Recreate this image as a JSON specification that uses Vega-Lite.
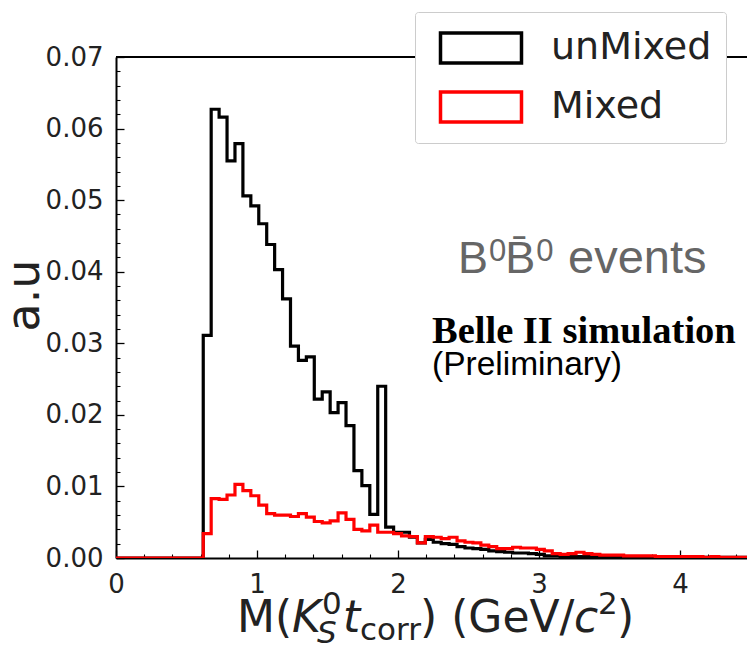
{
  "$schema": "https://vega.github.io/schema/vega-lite/v6.json",
  "autosize": "none",
  "width": 631,
  "height": 501,
  "padding": {"left": 116, "top": 57, "right": 0, "bottom": 87},
  "background": "white",
  "config": {"view": {"stroke": null}, "font": "DejaVu Sans"},
  "resolve": {"axis": {"x": "independent", "y": "independent"}},
  "data": {"values": [
    {"s": "unMixed", "x": 0, "y": 0},
    {"s": "unMixed", "x": 0.05625, "y": 0},
    {"s": "unMixed", "x": 0.1125, "y": 0},
    {"s": "unMixed", "x": 0.16875, "y": 0},
    {"s": "unMixed", "x": 0.225, "y": 0},
    {"s": "unMixed", "x": 0.28125, "y": 0},
    {"s": "unMixed", "x": 0.3375, "y": 0},
    {"s": "unMixed", "x": 0.39375, "y": 0},
    {"s": "unMixed", "x": 0.45, "y": 0},
    {"s": "unMixed", "x": 0.50625, "y": 0},
    {"s": "unMixed", "x": 0.5625, "y": 0},
    {"s": "unMixed", "x": 0.61875, "y": 0.0311},
    {"s": "unMixed", "x": 0.675, "y": 0.0627},
    {"s": "unMixed", "x": 0.73125, "y": 0.0616},
    {"s": "unMixed", "x": 0.7875, "y": 0.0555},
    {"s": "unMixed", "x": 0.84375, "y": 0.0579},
    {"s": "unMixed", "x": 0.9, "y": 0.0506},
    {"s": "unMixed", "x": 0.95625, "y": 0.0492},
    {"s": "unMixed", "x": 1.0125, "y": 0.0467},
    {"s": "unMixed", "x": 1.06875, "y": 0.0438},
    {"s": "unMixed", "x": 1.125, "y": 0.0403},
    {"s": "unMixed", "x": 1.18125, "y": 0.0362},
    {"s": "unMixed", "x": 1.2375, "y": 0.0296},
    {"s": "unMixed", "x": 1.29375, "y": 0.0276},
    {"s": "unMixed", "x": 1.35, "y": 0.0281},
    {"s": "unMixed", "x": 1.40625, "y": 0.0222},
    {"s": "unMixed", "x": 1.4625, "y": 0.0232},
    {"s": "unMixed", "x": 1.51875, "y": 0.0203},
    {"s": "unMixed", "x": 1.575, "y": 0.0217},
    {"s": "unMixed", "x": 1.63125, "y": 0.0185},
    {"s": "unMixed", "x": 1.6875, "y": 0.0122},
    {"s": "unMixed", "x": 1.74375, "y": 0.0101},
    {"s": "unMixed", "x": 1.8, "y": 0.0061},
    {"s": "unMixed", "x": 1.85625, "y": 0.024},
    {"s": "unMixed", "x": 1.9125, "y": 0.0043},
    {"s": "unMixed", "x": 1.96875, "y": 0.0036},
    {"s": "unMixed", "x": 2.025, "y": 0.0036},
    {"s": "unMixed", "x": 2.08125, "y": 0.0029},
    {"s": "unMixed", "x": 2.1375, "y": 0.0021},
    {"s": "unMixed", "x": 2.19375, "y": 0.0026},
    {"s": "unMixed", "x": 2.25, "y": 0.0022},
    {"s": "unMixed", "x": 2.30625, "y": 0.002},
    {"s": "unMixed", "x": 2.3625, "y": 0.0019},
    {"s": "unMixed", "x": 2.41875, "y": 0.0016},
    {"s": "unMixed", "x": 2.475, "y": 0.0014},
    {"s": "unMixed", "x": 2.53125, "y": 0.0013},
    {"s": "unMixed", "x": 2.5875, "y": 0.0012},
    {"s": "unMixed", "x": 2.64375, "y": 0.001},
    {"s": "unMixed", "x": 2.7, "y": 0.0009},
    {"s": "unMixed", "x": 2.75625, "y": 0.0008},
    {"s": "unMixed", "x": 2.8125, "y": 0.0007},
    {"s": "unMixed", "x": 2.86875, "y": 0.0007},
    {"s": "unMixed", "x": 2.925, "y": 0.0006},
    {"s": "unMixed", "x": 2.98125, "y": 0.0005},
    {"s": "unMixed", "x": 3.0375, "y": 0.0003},
    {"s": "unMixed", "x": 3.09375, "y": 0.0003},
    {"s": "unMixed", "x": 3.15, "y": 0.0002},
    {"s": "unMixed", "x": 3.20625, "y": 0.0002},
    {"s": "unMixed", "x": 3.2625, "y": 0.0002},
    {"s": "unMixed", "x": 3.31875, "y": 0.0002},
    {"s": "unMixed", "x": 3.375, "y": 0.0002},
    {"s": "unMixed", "x": 3.43125, "y": 0.0001},
    {"s": "unMixed", "x": 3.4875, "y": 0.0001},
    {"s": "unMixed", "x": 3.54375, "y": 0.0001},
    {"s": "unMixed", "x": 3.6, "y": 0.0001},
    {"s": "unMixed", "x": 3.65625, "y": 0.0001},
    {"s": "unMixed", "x": 3.7125, "y": 0.0001},
    {"s": "unMixed", "x": 3.76875, "y": 0.0001},
    {"s": "unMixed", "x": 3.825, "y": 0.0001},
    {"s": "unMixed", "x": 3.88125, "y": 0.0001},
    {"s": "unMixed", "x": 3.9375, "y": 0.0001},
    {"s": "unMixed", "x": 3.99375, "y": 0.0001},
    {"s": "unMixed", "x": 4.05, "y": 0.0001},
    {"s": "unMixed", "x": 4.10625, "y": 0.0001},
    {"s": "unMixed", "x": 4.1625, "y": 0.0001},
    {"s": "unMixed", "x": 4.21875, "y": 0.0001},
    {"s": "unMixed", "x": 4.275, "y": 0.0001},
    {"s": "unMixed", "x": 4.33125, "y": 0.0001},
    {"s": "unMixed", "x": 4.3875, "y": 0.0001},
    {"s": "unMixed", "x": 4.44375, "y": 0.0001},
    {"s": "unMixed", "x": 4.5, "y": 0.0001},
    {"s": "Mixed", "x": 0, "y": 0},
    {"s": "Mixed", "x": 0.05625, "y": 0},
    {"s": "Mixed", "x": 0.1125, "y": 0},
    {"s": "Mixed", "x": 0.16875, "y": 0},
    {"s": "Mixed", "x": 0.225, "y": 0},
    {"s": "Mixed", "x": 0.28125, "y": 0},
    {"s": "Mixed", "x": 0.3375, "y": 0},
    {"s": "Mixed", "x": 0.39375, "y": 0},
    {"s": "Mixed", "x": 0.45, "y": 0},
    {"s": "Mixed", "x": 0.50625, "y": 0},
    {"s": "Mixed", "x": 0.5625, "y": 0},
    {"s": "Mixed", "x": 0.61875, "y": 0.0034},
    {"s": "Mixed", "x": 0.675, "y": 0.0083},
    {"s": "Mixed", "x": 0.73125, "y": 0.0082},
    {"s": "Mixed", "x": 0.7875, "y": 0.0088},
    {"s": "Mixed", "x": 0.84375, "y": 0.0103},
    {"s": "Mixed", "x": 0.9, "y": 0.0094},
    {"s": "Mixed", "x": 0.95625, "y": 0.0087},
    {"s": "Mixed", "x": 1.0125, "y": 0.0074},
    {"s": "Mixed", "x": 1.06875, "y": 0.0062},
    {"s": "Mixed", "x": 1.125, "y": 0.006},
    {"s": "Mixed", "x": 1.18125, "y": 0.006},
    {"s": "Mixed", "x": 1.2375, "y": 0.0058},
    {"s": "Mixed", "x": 1.29375, "y": 0.0062},
    {"s": "Mixed", "x": 1.35, "y": 0.0057},
    {"s": "Mixed", "x": 1.40625, "y": 0.0051},
    {"s": "Mixed", "x": 1.4625, "y": 0.0049},
    {"s": "Mixed", "x": 1.51875, "y": 0.0052},
    {"s": "Mixed", "x": 1.575, "y": 0.0063},
    {"s": "Mixed", "x": 1.63125, "y": 0.0054},
    {"s": "Mixed", "x": 1.6875, "y": 0.004},
    {"s": "Mixed", "x": 1.74375, "y": 0.0038},
    {"s": "Mixed", "x": 1.8, "y": 0.0046},
    {"s": "Mixed", "x": 1.85625, "y": 0.0036},
    {"s": "Mixed", "x": 1.9125, "y": 0.0036},
    {"s": "Mixed", "x": 1.96875, "y": 0.0034},
    {"s": "Mixed", "x": 2.025, "y": 0.0031},
    {"s": "Mixed", "x": 2.08125, "y": 0.003},
    {"s": "Mixed", "x": 2.1375, "y": 0.0021},
    {"s": "Mixed", "x": 2.19375, "y": 0.003},
    {"s": "Mixed", "x": 2.25, "y": 0.0029},
    {"s": "Mixed", "x": 2.30625, "y": 0.0027},
    {"s": "Mixed", "x": 2.3625, "y": 0.0029},
    {"s": "Mixed", "x": 2.41875, "y": 0.0024},
    {"s": "Mixed", "x": 2.475, "y": 0.0022},
    {"s": "Mixed", "x": 2.53125, "y": 0.0021},
    {"s": "Mixed", "x": 2.5875, "y": 0.0018},
    {"s": "Mixed", "x": 2.64375, "y": 0.0016},
    {"s": "Mixed", "x": 2.7, "y": 0.0013},
    {"s": "Mixed", "x": 2.75625, "y": 0.0013},
    {"s": "Mixed", "x": 2.8125, "y": 0.0015},
    {"s": "Mixed", "x": 2.86875, "y": 0.0014},
    {"s": "Mixed", "x": 2.925, "y": 0.0014},
    {"s": "Mixed", "x": 2.98125, "y": 0.0012},
    {"s": "Mixed", "x": 3.0375, "y": 0.001},
    {"s": "Mixed", "x": 3.09375, "y": 0.0006},
    {"s": "Mixed", "x": 3.15, "y": 0.0005},
    {"s": "Mixed", "x": 3.20625, "y": 0.0006},
    {"s": "Mixed", "x": 3.2625, "y": 0.0008},
    {"s": "Mixed", "x": 3.31875, "y": 0.0006},
    {"s": "Mixed", "x": 3.375, "y": 0.0005},
    {"s": "Mixed", "x": 3.43125, "y": 0.0004},
    {"s": "Mixed", "x": 3.4875, "y": 0.0004},
    {"s": "Mixed", "x": 3.54375, "y": 0.0004},
    {"s": "Mixed", "x": 3.6, "y": 0.0003},
    {"s": "Mixed", "x": 3.65625, "y": 0.0003},
    {"s": "Mixed", "x": 3.7125, "y": 0.0003},
    {"s": "Mixed", "x": 3.76875, "y": 0.0003},
    {"s": "Mixed", "x": 3.825, "y": 0.0002},
    {"s": "Mixed", "x": 3.88125, "y": 0.0002},
    {"s": "Mixed", "x": 3.9375, "y": 0.0002},
    {"s": "Mixed", "x": 3.99375, "y": 0.0002},
    {"s": "Mixed", "x": 4.05, "y": 0.0002},
    {"s": "Mixed", "x": 4.10625, "y": 0.0002},
    {"s": "Mixed", "x": 4.1625, "y": 0.0001},
    {"s": "Mixed", "x": 4.21875, "y": 0.0002},
    {"s": "Mixed", "x": 4.275, "y": 0.0001},
    {"s": "Mixed", "x": 4.33125, "y": 0.0001},
    {"s": "Mixed", "x": 4.3875, "y": 0.0001},
    {"s": "Mixed", "x": 4.44375, "y": 0.0001},
    {"s": "Mixed", "x": 4.5, "y": 0.0001}
  ]},
  "layer": [
    {
      "transform": [{"filter": "datum.s === 'unMixed'"}],
      "mark": {"type": "line", "interpolate": "step-after", "strokeWidth": 3.2, "clip": true, "strokeJoin": "miter", "strokeCap": "square"},
      "encoding": {
        "x": {"field": "x", "type": "quantitative",
          "scale": {"domain": [0, 4.475], "nice": false, "zero": false},
          "axis": {
            "orient": "bottom",
            "values": [0, 1, 2, 3, 4],
            "title": null,
            "format": "d",
            "tickSize": -8,
            "labelPadding": 21,
            "labelFont": "DejaVu Sans", "labelFontSize": 26, "labelColor": "#222222",
            "domainColor": "#000000", "domainWidth": 2, "tickColor": "#000000", "tickWidth": 1.3,
            "grid": false, "labelOverlap": false, "labelFlush": false, "labelBound": false
          }
        },
        "y": {"field": "y", "type": "quantitative",
          "scale": {"domain": [0, 0.07], "nice": false},
          "axis": {
            "orient": "left",
            "values": [0, 0.01, 0.02, 0.03, 0.04, 0.05, 0.06, 0.07],
            "format": ".2f",
            "title": "a.u",
            "titleFont": "DejaVu Sans", "titleFontSize": 46, "titleFontWeight": "normal", "titleColor": "#222222",
            "titleAngle": 270, "titleX": -78, "titleY": 238, "titleAlign": "center", "titleBaseline": "alphabetic",
            "tickSize": -8,
            "labelPadding": 21,
            "labelFont": "DejaVu Sans", "labelFontSize": 26, "labelColor": "#222222",
            "domainColor": "#000000", "domainWidth": 2, "tickColor": "#000000", "tickWidth": 1.3,
            "grid": false, "labelOverlap": false, "labelFlush": false, "labelBound": false
          }
        },
        "color": {"field": "s", "type": "nominal",
          "scale": {"domain": ["unMixed", "Mixed"], "range": ["#000000", "#ff0000"]},
          "legend": {
            "orient": "none", "legendX": 299, "legendY": -45,
            "title": null,
            "symbolType": "M-2,-0.74H2V0.74H-2Z",
            "symbolSize": 1640,
            "symbolStrokeWidth": 3.5,
            "symbolFillColor": "transparent",
            "symbolOffset": 30,
            "labelFont": "DejaVu Sans", "labelFontSize": 38, "labelColor": "#222222",
            "labelOffset": 48, "labelLimit": 400,
            "rowPadding": 15,
            "padding": 14,
            "fillColor": "#ffffff", "strokeColor": "#cccccc", "cornerRadius": 3
          }
        }
      }
    },
    {
      "transform": [{"filter": "datum.s === 'Mixed'"}],
      "mark": {"type": "line", "interpolate": "step-after", "strokeWidth": 3.2, "clip": true, "strokeJoin": "miter", "strokeCap": "square"},
      "encoding": {
        "x": {"field": "x", "type": "quantitative",
          "axis": {
            "orient": "bottom",
            "values": [0.2, 0.4, 0.6, 0.8, 1.2, 1.4, 1.6, 1.8, 2.2, 2.4, 2.6, 2.8, 3.2, 3.4, 3.6, 3.8, 4.2, 4.4],
            "title": null, "labels": false, "domain": false, "grid": false,
            "tickSize": -4, "tickColor": "#000000", "tickWidth": 1.1
          }
        },
        "y": {"field": "y", "type": "quantitative",
          "axis": {
            "orient": "left",
            "values": [0.002, 0.004, 0.006, 0.008, 0.012, 0.014, 0.016, 0.018, 0.022, 0.024, 0.026, 0.028, 0.032, 0.034, 0.036, 0.038, 0.042, 0.044, 0.046, 0.048, 0.052, 0.054, 0.056, 0.058, 0.062, 0.064, 0.066, 0.068],
            "title": null, "labels": false, "domain": false, "grid": false,
            "tickSize": -4, "tickColor": "#000000", "tickWidth": 1.1
          }
        },
        "color": {"field": "s", "type": "nominal"}
      }
    },
    {
      "data": {"values": [{}]},
      "mark": {"type": "rule", "color": "#000000", "strokeWidth": 2},
      "encoding": {"y": {"datum": 0.07, "type": "quantitative", "axis": null}}
    },
    {
      "data": {"values": [{}]},
      "mark": {"type": "text", "text": "B", "font": "Liberation Sans", "fontSize": 45, "color": "#666666", "align": "left", "baseline": "alphabetic"},
      "encoding": {"x": {"datum": 2.4255, "type": "quantitative", "axis": null}, "y": {"datum": 0.03982, "type": "quantitative", "axis": null}}
    },
    {
      "data": {"values": [{}]},
      "mark": {"type": "text", "text": "0", "font": "Liberation Sans", "fontSize": 31, "color": "#666666", "align": "left", "baseline": "alphabetic"},
      "encoding": {"x": {"datum": 2.645, "type": "quantitative", "axis": null}, "y": {"datum": 0.0415, "type": "quantitative", "axis": null}}
    },
    {
      "data": {"values": [{}]},
      "mark": {"type": "text", "text": "B̄", "font": "Liberation Sans", "fontSize": 45, "color": "#666666", "align": "left", "baseline": "alphabetic"},
      "encoding": {"x": {"datum": 2.76, "type": "quantitative", "axis": null}, "y": {"datum": 0.03982, "type": "quantitative", "axis": null}}
    },
    {
      "data": {"values": [{}]},
      "mark": {"type": "text", "text": "0", "font": "Liberation Sans", "fontSize": 31, "color": "#666666", "align": "left", "baseline": "alphabetic"},
      "encoding": {"x": {"datum": 2.98, "type": "quantitative", "axis": null}, "y": {"datum": 0.0415, "type": "quantitative", "axis": null}}
    },
    {
      "data": {"values": [{}]},
      "mark": {"type": "text", "text": "events", "font": "Liberation Sans", "fontSize": 47, "color": "#666666", "align": "left", "baseline": "alphabetic"},
      "encoding": {"x": {"datum": 3.2057, "type": "quantitative", "axis": null}, "y": {"datum": 0.03982, "type": "quantitative", "axis": null}}
    },
    {
      "data": {"values": [{}]},
      "mark": {"type": "text", "text": "Belle II simulation", "font": "Liberation Serif", "fontWeight": "bold", "fontSize": 38.5, "color": "#000000", "align": "left", "baseline": "alphabetic"},
      "encoding": {"x": {"datum": 2.241, "type": "quantitative", "axis": null}, "y": {"datum": 0.03004, "type": "quantitative", "axis": null}}
    },
    {
      "data": {"values": [{}]},
      "mark": {"type": "text", "text": "(Preliminary)", "font": "Liberation Sans", "fontSize": 33.5, "color": "#000000", "align": "left", "baseline": "alphabetic"},
      "encoding": {"x": {"datum": 2.241, "type": "quantitative", "axis": null}, "y": {"datum": 0.0256, "type": "quantitative", "axis": null}}
    },
    {
      "data": {"values": [{}]},
      "mark": {"type": "text", "text": "M(", "font": "DejaVu Sans", "fontSize": 44, "color": "#222222", "align": "left", "baseline": "alphabetic"},
      "encoding": {"x": {"datum": 0.8582, "type": "quantitative", "axis": null}, "y": {"datum": -0.01034, "type": "quantitative", "axis": null}}
    },
    {
      "data": {"values": [{}]},
      "mark": {"type": "text", "text": "K", "font": "DejaVu Sans", "fontStyle": "italic", "fontSize": 44, "color": "#222222", "align": "left", "baseline": "alphabetic"},
      "encoding": {"x": {"datum": 1.2482, "type": "quantitative", "axis": null}, "y": {"datum": -0.01034, "type": "quantitative", "axis": null}}
    },
    {
      "data": {"values": [{}]},
      "mark": {"type": "text", "text": "0", "font": "DejaVu Sans", "fontSize": 31, "color": "#222222", "align": "left", "baseline": "alphabetic"},
      "encoding": {"x": {"datum": 1.461, "type": "quantitative", "axis": null}, "y": {"datum": -0.00782, "type": "quantitative", "axis": null}}
    },
    {
      "data": {"values": [{}]},
      "mark": {"type": "text", "text": "S", "font": "DejaVu Sans", "fontStyle": "italic", "fontSize": 31, "color": "#222222", "align": "left", "baseline": "alphabetic"},
      "encoding": {"x": {"datum": 1.4255, "type": "quantitative", "axis": null}, "y": {"datum": -0.0119, "type": "quantitative", "axis": null}}
    },
    {
      "data": {"values": [{}]},
      "mark": {"type": "text", "text": "t", "font": "DejaVu Sans", "fontStyle": "italic", "fontSize": 44, "color": "#222222", "align": "left", "baseline": "alphabetic"},
      "encoding": {"x": {"datum": 1.61, "type": "quantitative", "axis": null}, "y": {"datum": -0.01034, "type": "quantitative", "axis": null}}
    },
    {
      "data": {"values": [{}]},
      "mark": {"type": "text", "text": "corr", "font": "DejaVu Sans", "fontSize": 31, "color": "#222222", "align": "left", "baseline": "alphabetic"},
      "encoding": {"x": {"datum": 1.7305, "type": "quantitative", "axis": null}, "y": {"datum": -0.0115, "type": "quantitative", "axis": null}}
    },
    {
      "data": {"values": [{}]},
      "mark": {"type": "text", "text": ") (GeV/", "font": "DejaVu Sans", "fontSize": 44, "color": "#222222", "align": "left", "baseline": "alphabetic"},
      "encoding": {"x": {"datum": 2.156, "type": "quantitative", "axis": null}, "y": {"datum": -0.01034, "type": "quantitative", "axis": null}}
    },
    {
      "data": {"values": [{}]},
      "mark": {"type": "text", "text": "c", "font": "DejaVu Sans", "fontStyle": "italic", "fontSize": 44, "color": "#222222", "align": "left", "baseline": "alphabetic"},
      "encoding": {"x": {"datum": 3.248, "type": "quantitative", "axis": null}, "y": {"datum": -0.01034, "type": "quantitative", "axis": null}}
    },
    {
      "data": {"values": [{}]},
      "mark": {"type": "text", "text": "2", "font": "DejaVu Sans", "fontSize": 31, "color": "#222222", "align": "left", "baseline": "alphabetic"},
      "encoding": {"x": {"datum": 3.418, "type": "quantitative", "axis": null}, "y": {"datum": -0.00782, "type": "quantitative", "axis": null}}
    },
    {
      "data": {"values": [{}]},
      "mark": {"type": "text", "text": ")", "font": "DejaVu Sans", "fontSize": 44, "color": "#222222", "align": "left", "baseline": "alphabetic"},
      "encoding": {"x": {"datum": 3.553, "type": "quantitative", "axis": null}, "y": {"datum": -0.01034, "type": "quantitative", "axis": null}}
    }
  ]
}
